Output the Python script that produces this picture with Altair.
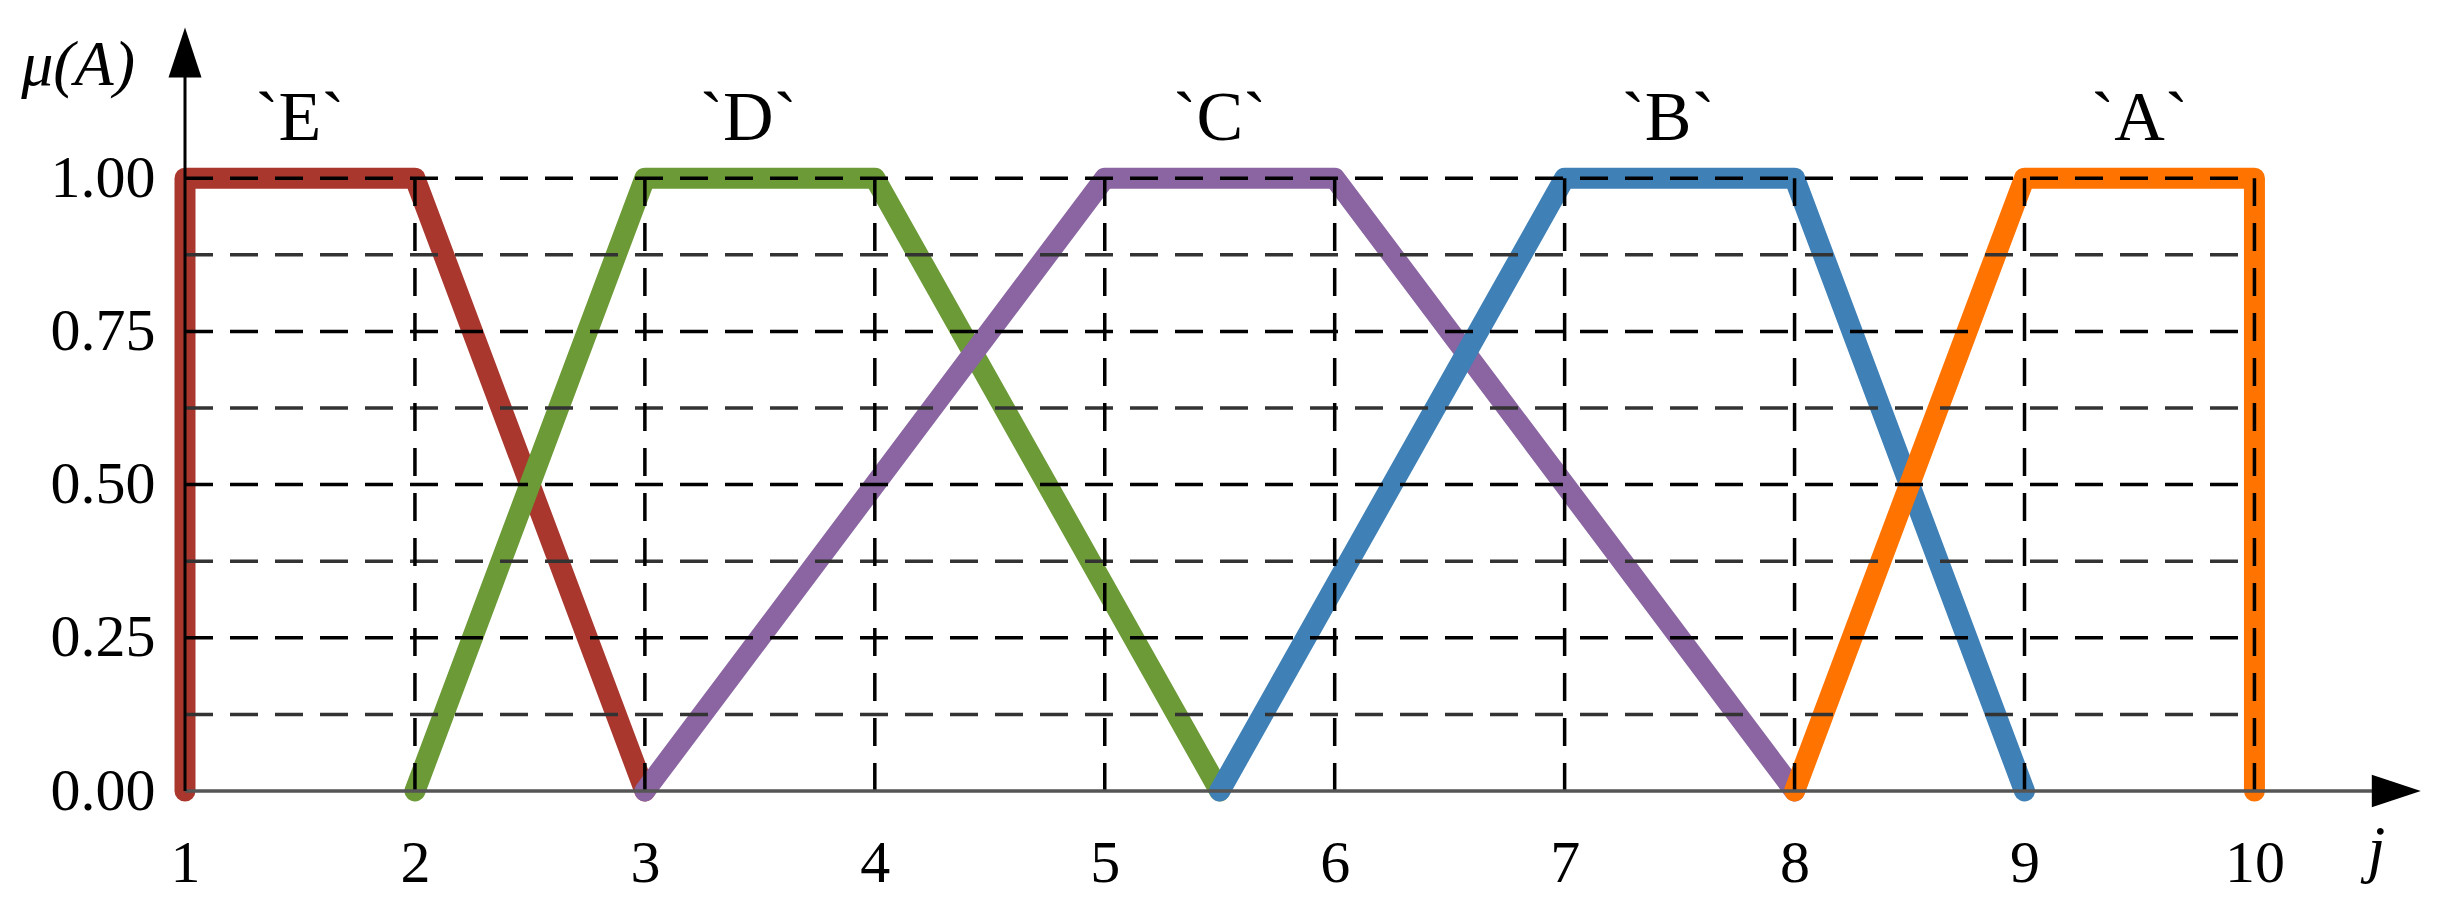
import altair as alt
import pandas as pd

# ---- data ----
series = ["`E`", "`D`", "`C`", "`B`", "`A`"]
colors = ["#A9372E", "#6B9A36", "#8A65A1", "#3F80B7", "#FF7300"]
E_x = [1, 1, 2, 3]
D_x = [2, 3, 4, 5.5]
C_x = [3, 5, 6, 8]
B_x = [5.5, 7, 8, 9]
A_x = [8, 9, 10, 10]
trap_y = [0, 1, 1, 0]
label_x = [1.5, 3.45, 5.5, 7.45, 9.5]
label_y = 1.062
x_ticks = [1, 2, 3, 4, 5, 6, 7, 8, 9, 10]
y_ticks = [0, 0.25, 0.5, 0.75, 1.0]
hgrid_y = [0.125, 0.25, 0.375, 0.5, 0.625, 0.75, 0.875, 1.0]
vgrid_x = [2, 3, 4, 5, 6, 7, 8, 9, 10]

rows = []
for name, xs_ in zip(series, [E_x, D_x, C_x, B_x, A_x]):
    for i, (xv, yv) in enumerate(zip(xs_, trap_y)):
        rows.append({"series": name, "x": xv, "y": yv, "o": i})
lines_df = pd.DataFrame(rows)

FONT = "Liberation Serif"
xs = alt.Scale(domain=[1, 10.72], nice=False, zero=False)
ys = alt.Scale(domain=[0, 1.25], nice=False, zero=False)
XAX = alt.Axis(values=x_ticks, format="d", title=None, grid=False, domain=False, ticks=False,
               tickSize=0, labelFont=FONT, labelFontSize=60, labelColor="black", labelPadding=90,
               labelBaseline="alphabetic", labelFlush=False, labelOverlap=False)
YAX = alt.Axis(values=y_ticks, format=".2f", title=None, grid=False, domain=False, ticks=False,
               tickSize=0, labelFont=FONT, labelFontSize=60, labelColor="black", labelPadding=30,
               labelBaseline="middle", labelFlush=False, labelOverlap=False)


def X(f):
    return alt.X(f, type="quantitative", scale=xs, axis=XAX)


def Y(f):
    return alt.Y(f, type="quantitative", scale=ys, axis=YAX)


lines = alt.Chart(lines_df).mark_line(strokeWidth=21, strokeCap="round", strokeJoin="round").encode(
    x=X("x"), y=Y("y"),
    color=alt.Color("series:N", scale=alt.Scale(domain=series, range=colors), legend=None),
    detail="series:N",
    order="o:Q",
)

hg = pd.DataFrame({"y": hgrid_y, "x": 1, "x2": 10,
                   "c": ["#333333" if (v * 4) % 1 else "black" for v in hgrid_y]})
hgrid = alt.Chart(hg).mark_rule(strokeWidth=3.5, strokeDash=[28, 17]).encode(
    x=X("x"), x2="x2:Q", y=Y("y"),
    color=alt.Color("c:N", scale=None),
)

vg = pd.DataFrame({"x": vgrid_x, "y": 0, "y2": 1})
vgrid = alt.Chart(vg).mark_rule(strokeWidth=3.5, strokeDash=[28, 17], color="black").encode(
    x=X("x"), y=Y("y"), y2="y2:Q",
)

xaxis_line = alt.Chart(pd.DataFrame({"x": [1], "x2": [10.6], "y": [0]})).mark_rule(
    strokeWidth=3.5, color="#555555").encode(x=X("x"), x2="x2:Q", y=Y("y"))
yaxis_line = alt.Chart(pd.DataFrame({"x": [1], "y": [0], "y2": [1.2]})).mark_rule(
    strokeWidth=3, color="black").encode(x=X("x"), y=Y("y"), y2="y2:Q")

arrow_up = alt.Chart(pd.DataFrame({"x": [1], "y": [1.205]})).mark_point(
    shape="M0,-1L0.66,1L-0.66,1Z", filled=True, size=2500, color="black", opacity=1,
    strokeWidth=0).encode(x=X("x"), y=Y("y"))
arrow_right = alt.Chart(pd.DataFrame({"x": [10.617], "y": [0]})).mark_point(
    shape="M1,0L-1,-0.66L-1,0.66Z", filled=True, size=2400, color="black", opacity=1,
    strokeWidth=0).encode(x=X("x"), y=Y("y"))

lab_df = pd.DataFrame({"t": series, "x": label_x, "y": label_y})
cat_labels = alt.Chart(lab_df).mark_text(font=FONT, fontSize=70, align="center",
                                         baseline="alphabetic", color="black").encode(
    x=X("x"), y=Y("y"), text="t:N")

titles_df = pd.DataFrame({"t": ["μ(A)", "j"], "x": [0.535, 10.53], "y": [1.152, -0.129]})
titles = alt.Chart(titles_df).mark_text(font=FONT, fontSize=64, fontStyle="italic", align="center",
                                        baseline="alphabetic", color="black").encode(
    x=X("x"), y=Y("y"), text="t:N")

chart = alt.layer(lines, hgrid, vgrid, xaxis_line, yaxis_line, arrow_up, arrow_right,
                  cat_labels, titles).properties(
    width=2235, height=766,
    padding={"left": 177, "top": 17, "right": 15, "bottom": 115},
    autosize=alt.AutoSizeParams(type="none"),
    background="white",
).configure_view(stroke=None)

chart.save("out.html", embed_options={"renderer": "svg", "actions": False})
